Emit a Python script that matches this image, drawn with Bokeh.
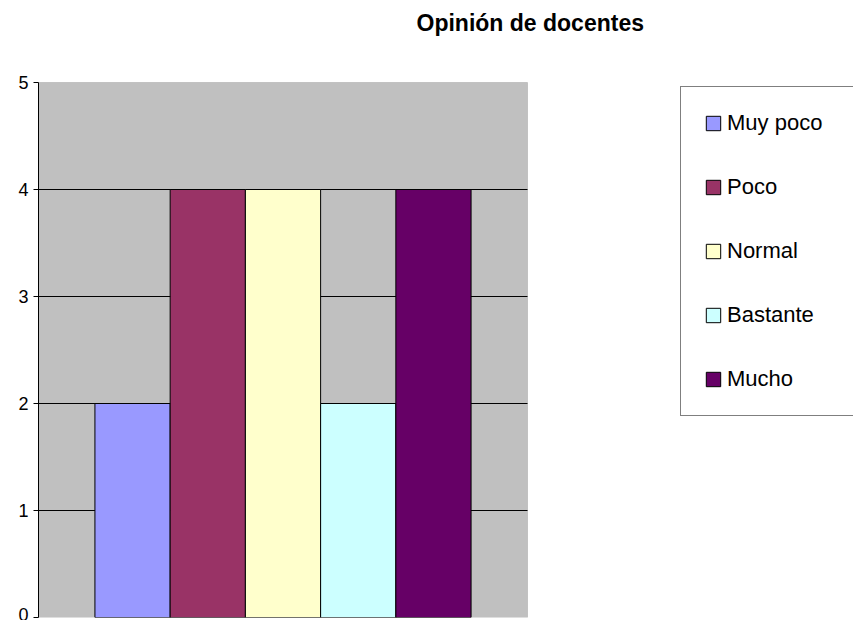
from bokeh.plotting import figure
from bokeh.models import Range1d, FixedTicker, BoxAnnotation, Label
from bokeh.embed import file_html
from bokeh.resources import INLINE

title_text = "Opinión de docentes"
categories = ["Muy poco", "Poco", "Normal", "Bastante", "Mucho"]
values = [2, 4, 4, 2, 4]
colors = ["#9999FF", "#993366", "#FFFFCC", "#CCFFFF", "#660066"]
y_ticks = [0, 1, 2, 3, 4, 5]

FONT = "Liberation Sans"
gap = 0.75                      # half of Excel's 150% gap width, in bar widths
span = len(categories) + 2 * gap
y_max = max(y_ticks)

# layout (pixels)
W, H = 853, 620
left_b, bottom_b = 38, 3
area_w, area_h = 489, 535       # size of the grey plot area
frame_w, frame_h = W - left_b, H - bottom_b

p = figure(width=W, height=H, output_backend="svg", toolbar_location=None,
           x_range=Range1d(0, span * frame_w / area_w),
           y_range=Range1d(0, y_max * frame_h / area_h),
           min_border_left=left_b, min_border_right=0, min_border_top=0,
           min_border_bottom=bottom_b)
p.outline_line_color = None
p.background_fill_color = "white"
p.border_fill_color = "white"

# grey plot area
p.add_layout(BoxAnnotation(left=0, right=span, bottom=0, top=y_max,
                           fill_color="#C0C0C0", fill_alpha=1,
                           line_color="#808080", line_width=1, level="underlay"))

# horizontal gridlines across the plot area only
inner = [t for t in y_ticks if 0 < t < y_max]
p.segment(x0=[0] * len(inner), x1=[span] * len(inner), y0=inner, y1=inner,
          line_color="black", line_width=1)

for i, (cat, val, col) in enumerate(zip(categories, values, colors)):
    p.vbar(x=[gap + i + 0.5], top=[val], bottom=0, width=1.0, fill_color=col,
           line_color="black", line_width=1, legend_label=cat)

p.xaxis.visible = False
p.xgrid.visible = False
p.ygrid.visible = False
p.yaxis.bounds = (0, y_max)
p.yaxis.ticker = FixedTicker(ticks=y_ticks)
p.yaxis.minor_tick_line_color = None
p.yaxis.major_tick_in = 0
p.yaxis.major_tick_out = 5
p.yaxis.major_tick_line_color = "black"
p.yaxis.axis_line_color = "black"
p.yaxis.major_label_text_font = FONT
p.yaxis.major_label_text_font_size = "18px"
p.yaxis.major_label_text_color = "black"
p.yaxis.major_label_standoff = 5

# chart title
p.add_layout(Label(x=span * (416 - left_b) / area_w, y=y_max * (H - bottom_b - 22) / area_h,
                   text=title_text, text_font=FONT, text_font_size="23px",
                   text_font_style="bold", text_color="black",
                   text_align="left", text_baseline="middle"))

leg = p.legend[0]
leg.location = (642, 201)
leg.padding = 23
leg.spacing = 38
leg.glyph_width = 18
leg.glyph_height = 18
leg.label_height = 18
leg.label_standoff = 5
leg.label_width = 130
leg.label_text_font = FONT
leg.label_text_font_size = "22px"
leg.label_text_color = "black"
leg.border_line_color = "black"
leg.border_line_width = 1
leg.background_fill_color = "white"
leg.background_fill_alpha = 1
leg.margin = 0

open("out.html", "w").write(file_html(p, INLINE))
